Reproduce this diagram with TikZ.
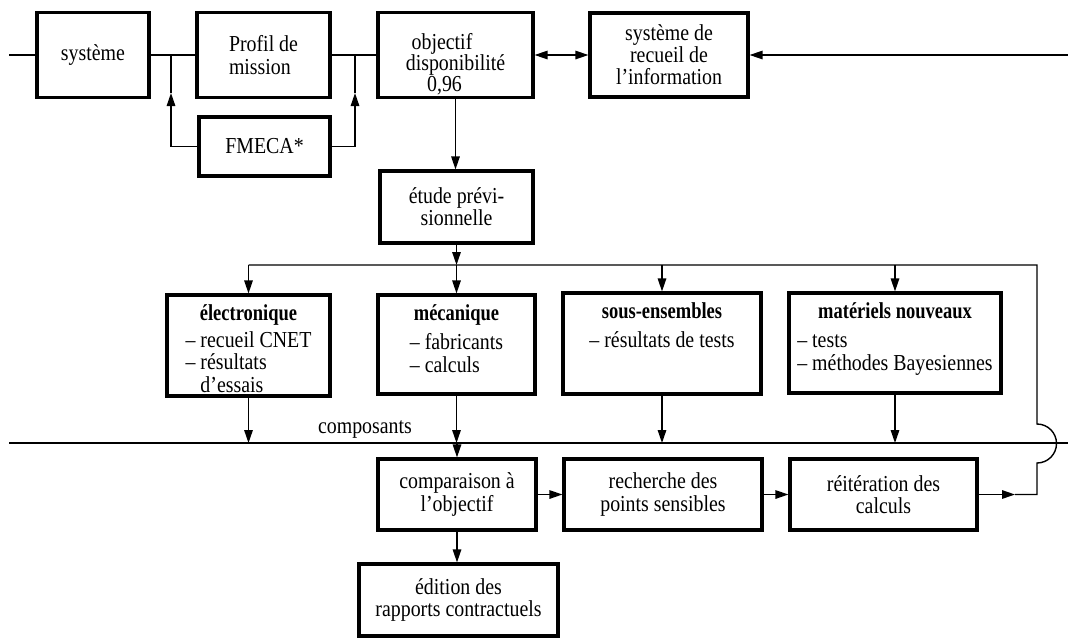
\documentclass[tikz,border=0pt]{standalone}
\usepackage{fontspec}
\setmainfont{Liberation Serif}[FakeStretch=0.87, BoldFeatures={FakeStretch=0.81}]
\usetikzlibrary{arrows.meta,positioning,calc}
\tikzset{
  >={Triangle[length=2.6mm,width=1.7mm]},
  every node/.append style={font=\fontsize{13}{12.6}\selectfont},
}
\tikzset{
  box/.style={draw, line width=1.8pt, align=center, inner sep=0pt},
  cattext/.style={align=center, inner sep=0pt, anchor=north, yshift=-2.2mm},
  arrow/.style={->, line width=0.8pt},
  wire/.style={line width=0.8pt}
}

\begin{document}
\begin{tikzpicture}[x=0.2mm, y=-0.2mm]
\useasboundingbox (0,0) rectangle (1068,638);

% top row
\node[box, minimum width=22.4mm, minimum height=17mm] (sys) at (93,55) {système};
\node[box, minimum width=26.6mm, minimum height=17mm, align=left] (profil) at (263.5,55) {Profil de\\mission};
\node[box, minimum width=26.2mm, minimum height=11.8mm] (fmeca) at (264.5,146.5) {FMECA*};
\node[box, minimum width=31mm, minimum height=17mm] (obj) at (455.5,55) {};
\node[anchor=base, inner sep=0pt] (objA) at (442,49) {objectif};
\node[anchor=base, inner sep=0pt] (objB) at (455.5,70) {disponibilité};
\node[anchor=base, inner sep=0pt] (objC) at (444.5,91) {0,96};
\node[box, minimum width=31.6mm, minimum height=16.8mm] (recueil) at (669,55) {système de\\recueil de\\l'information};
\node[box, minimum width=30.6mm, minimum height=14.4mm] (etude) at (456.5,207) {étude prévi-\\sionnelle};

% categories
\node[box, minimum width=32.6mm, minimum height=20.2mm] (elec) at (248.5,345.5) {};
\node[box, minimum width=31.4mm, minimum height=19.8mm] (meca) at (456.5,344.5) {};
\node[box, minimum width=39.6mm, minimum height=20.2mm] (sous) at (662,343.5) {};
\node[box, minimum width=42.4mm, minimum height=20mm] (mat) at (895,343) {};
\node[cattext] (elect) at (elec.north) {\textbf{électronique}\\[2.5pt]\begin{tabular}[t]{@{}l@{}}-- recueil CNET\\-- résultats\\\phantom{-- }d'essais\end{tabular}};
\node[cattext] (mecat) at (meca.north) {\textbf{mécanique}\\[4pt]\begin{tabular}[t]{@{}l@{}}-- fabricants\\-- calculs\end{tabular}};
\node[cattext] (soust) at (sous.north) {\textbf{sous-ensembles}\\[4pt]\begin{tabular}[t]{@{}l@{}}-- résultats de tests\end{tabular}};
\node[cattext] (matt) at (mat.north) {\textbf{matériels nouveaux}\\[4pt]\begin{tabular}[t]{@{}l@{}}-- tests\\-- méthodes Bayesiennes\end{tabular}};

% bottom row
\node[box, minimum width=31.6mm, minimum height=14.2mm] (comp) at (457,494.5) {comparaison à\\l'objectif};
\node[box, minimum width=39.6mm, minimum height=14.2mm] (rech) at (663,494.5) {recherche des\\points sensibles};
\node[box, minimum width=37.4mm, minimum height=14.2mm] (reit) at (883.5,494.5) {réitération des\\calculs};
\node[box, minimum width=39.8mm, minimum height=14.4mm] (edit) at (458.5,600) {édition des\\rapports contractuels};
\node[anchor=base] (compo) at (365,433) {composants};

\coordinate (inL) at (9,55);
\coordinate (inR) at (1068,55);
\coordinate (jl) at (171,55);
\coordinate (jr) at (355,55);
\coordinate (tl) at (171,93);
\coordinate (tr) at (355,93);
\coordinate (brL) at (247,265);
\coordinate (brR) at (1037,265);
\coordinate (busL) at (9,443);
\coordinate (busR) at (1068,443);
\coordinate (hopB) at (1037,463);
\coordinate (loopB) at (1037,494.5);
\coordinate (tipR) at (1015,494.5);

\draw[wire] (inL) -- (sys.west);
\draw[wire] (sys.east) -- (profil.west);
\draw[wire] (profil.east) -- (obj.west);
\draw[arrow] (fmeca.west) -| (tl);
\draw[wire] (tl) -- (jl);
\draw[arrow] (fmeca.east) -| (tr);
\draw[wire] (tr) -- (jr);
\draw[arrow, <->] (obj.east) -- (recueil.west);
\draw[arrow] (inR) -- (recueil.east);
\draw[arrow] (obj.south) -- (obj.south |- etude.north);

% branching
\draw[arrow] (etude.south) -- (etude.south |- brL);
\draw[arrow] (elec.north |- brL) -- (elec.north);
\draw[arrow] (meca.north |- brL) -- (meca.north);
\draw[arrow] (sous.north |- brL) -- (sous.north);
\draw[arrow] (mat.north |- brL) -- (mat.north);

% composants bus
\draw[wire] (busL) -- (busR);
\draw[arrow] (elec.south) -- (elec.south |- busL);
\draw[arrow] (meca.south) -- (meca.south |- busL);
\draw[arrow] (comp.north |- busL) -- (comp.north);
\draw[arrow] (sous.south) -- (sous.south |- busL);
\draw[arrow] (mat.south) -- (mat.south |- busL);

\draw[arrow] (comp.east) -- (rech.west);
\draw[arrow] (rech.east) -- (reit.west);
\draw[arrow] (comp.south) -- (comp.south |- edit.north);

% loop back with hop over the bus
\draw[arrow] (reit.east) -- (tipR);
\draw[wire] (tipR) -- (loopB) -- (hopB) arc[start angle=90, end angle=-90, radius=19.5] -- (brR) -- (elec.north |- brL);
\end{tikzpicture}
\end{document}
